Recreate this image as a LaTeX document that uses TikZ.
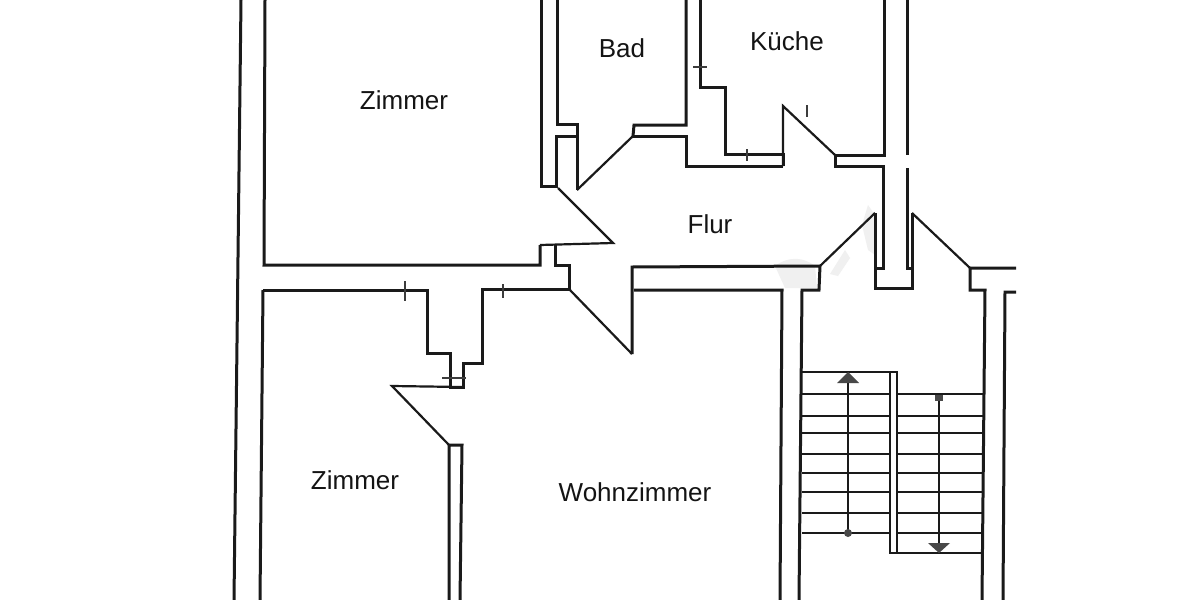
\documentclass[tikz,border=0pt]{standalone}
\usepackage{fontspec}
\setmainfont{Liberation Sans}
\definecolor{inkline}{HTML}{1A1A1A}
\definecolor{smudge}{HTML}{F0F0F0}
\tikzset{
    wall/.style={draw=inkline, line width=3pt, line join=miter},
    leaf/.style={draw=inkline, line width=2.2pt, line join=miter},
    thin/.style={draw=inkline!85, line width=1.6pt},
    roomname/.style={font=\fontsize{26}{30}\selectfont, text=black!92, inner sep=0pt},
}
\begin{document}
\begin{tikzpicture}[x=1pt,y=-1pt]
        \useasboundingbox (0,0) rectangle (1200,600);
        \fill[white] (0,0) rectangle (1200,600);

        %%%%%%%%% Flecken %%%%%%%%%
        \fill[smudge] (775,266) .. controls (790,255) and (805,258) .. (815,266) -- (817,288) -- (785,288) -- cycle;
        \fill[smudge] (868,205) -- (875,215) -- (875,255) -- (868,250) -- (862,225) -- cycle;
        \fill[smudge] (845,250) -- (850,258) -- (838,276) -- (830,274) -- cycle;

        %%%%%%%%% Aussen %%%%%%%%%%
        \draw[wall] (241,0) -- (234,600);
        \draw[wall] (265,0) -- (264,265) -- (540,265) -- (540,245);
        \draw[wall] (263,290) -- (260,600);

        %%%%%%%% Bad, Kueche %%%%%%%%
        \draw[wall] (541,0) -- (541,186) -- (556,186) -- (556,136) -- (577,136);
        \draw[wall] (557,0) -- (557,124) -- (577,124) -- (577,190);
        \draw[wall] (633,136) -- (634,125) -- (686,125) -- (686,0);
        \draw[wall] (633,136) -- (686,136) -- (686,166) -- (783,166);
        \draw[wall] (700,0) -- (700,87) -- (725,87) -- (725,154) -- (783,154) -- (783,166);
        \draw[wall] (835,155) -- (884,155) -- (884,0);
        \draw[wall] (835,155) -- (835,166) -- (883,166) -- (883,268) -- (875,268);
        \draw[wall] (907,0) -- (907,155);
        \draw[wall] (907,168) -- (907,268) -- (912,268);

        %%%%%%%%%% Flur %%%%%%%%%%%
        \draw[wall] (875,213) -- (875,288) -- (912,288) -- (912,213);
        \draw[wall] (555,245) -- (555,265) -- (569,265) -- (569,289) -- (482,289) -- (482,363) -- (463,363) -- (463,387) -- (450,387) -- (450,353) -- (427,353) -- (427,290) -- (263,290);
        \draw[wall] (632,354) -- (632,267) -- (820,266) -- (819,290) -- (802,290) -- (799,600);
        \draw[wall] (634,290) -- (782,290) -- (780,600);
        \draw[wall] (1016,268) -- (970,268) -- (970,290) -- (985,290) -- (982,600);
        \draw[wall] (1016,292) -- (1005,292) -- (1003,600);
        \draw[wall] (449,600) -- (449,445) -- (462,445) -- (460,600);

        %%%%%%%%% Tuerblaetter %%%%%%%%%
        \draw[leaf] (577,190) -- (633,136);
        \draw[leaf] (783,166) -- (783,106) -- (835,155);
        \draw[leaf] (558,188) -- (613,243) -- (540,245);
        \draw[leaf] (569,289) -- (632,354);
        \draw[leaf] (462,387) -- (392,386) -- (449,445);
        \draw[leaf] (875,213) -- (820,266);
        \draw[leaf] (912,213) -- (970,268);

        %%%%%%%%% Striche %%%%%%%%%
        \draw[thin] (405,281) -- (405,301);
        \draw[thin] (503,284) -- (503,298);
        \draw[thin] (442,378) -- (466,378);
        \draw[thin] (693,67) -- (707,67);
        \draw[thin] (747,149) -- (747,161);
        \draw[thin] (807,105) -- (807,117);

        %%%%%%%%% Treppe %%%%%%%%%
        \draw[leaf] (802,372) -- (897,372) -- (897,553);
        \draw[leaf] (890,372) -- (890,553) -- (983,553);
        \foreach \y in {394,416,433,454,473,492,513,533} {
            \draw[leaf] (802,\y) -- (890,\y);
            \draw[leaf] (897,\y) -- (984,\y);
        }
        \draw[leaf] (848,533) -- (848,378);
        \fill[inkline!80] (848,372) -- (859,383) -- (837,383) -- cycle;
        \fill[inkline!80] (848,533) circle (4);
        \draw[leaf] (939,395) -- (939,548);
        \fill[inkline!80] (935,395) rectangle (943,401);
        \fill[inkline!80] (939,553) -- (928,543) -- (950,543) -- cycle;

        %%%%%%%% Legenda %%%%%%%%%
        \node[roomname] (zimmerup) at (404,100) {Zimmer};
        \node[roomname] (bad) at (622,48) {Bad};
        \node[roomname] (kueche) at (787,41) {Küche};
        \node[roomname] (flur) at (710,224) {Flur};
        \node[roomname] (zimmerdown) at (355,480) {Zimmer};
        \node[roomname] (wohnzimmer) at (635,492) {Wohnzimmer};
    \end{tikzpicture}
\end{document}
